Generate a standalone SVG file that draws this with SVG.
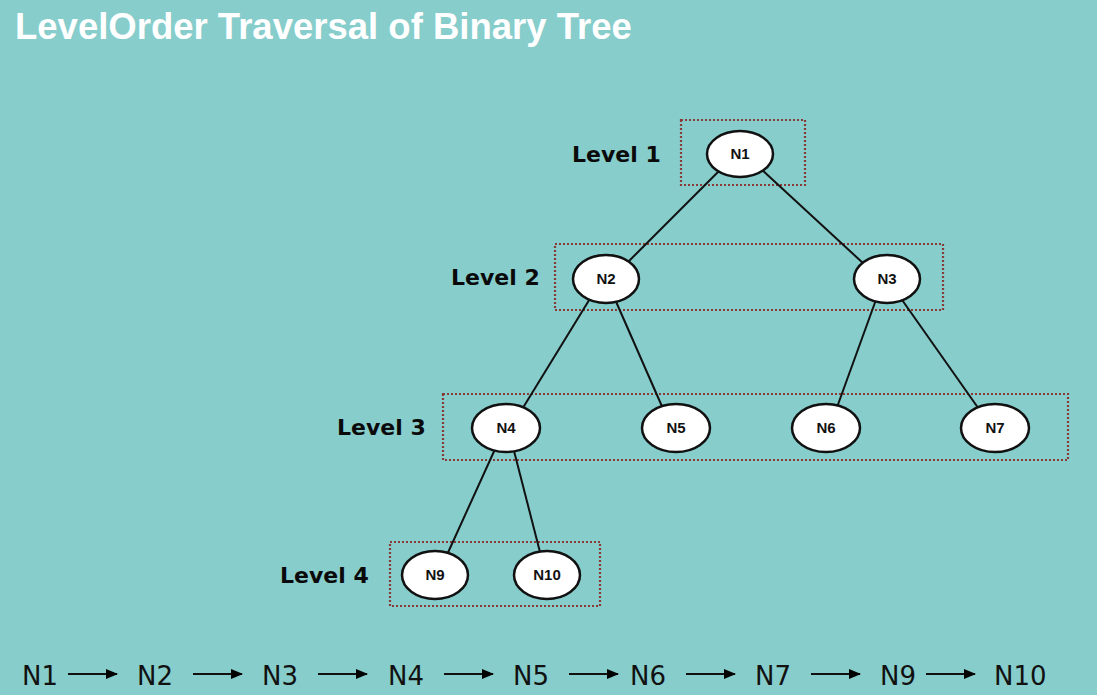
<svg xmlns="http://www.w3.org/2000/svg" width="1097" height="695" viewBox="0 0 1097 695">
<defs>
<marker id="ah" markerWidth="12" markerHeight="10" refX="11" refY="5" orient="auto" markerUnits="userSpaceOnUse">
<path d="M0,0 L12,5 L0,10 Z" fill="#000"/>
</marker>
</defs>
<style>
.title{font-family:"Liberation Sans",Arial,sans-serif;font-weight:bold;font-size:36.5px;fill:#fff}
.lvl{font-family:"DejaVu Sans",sans-serif;font-weight:bold;font-size:22px;fill:#0a0a0a}
.node ellipse{fill:#fff;stroke:#111;stroke-width:2.5}
.node text{font-family:"Liberation Sans",Arial,sans-serif;font-weight:bold;font-size:15px;fill:#111;text-anchor:middle}
.box{fill:none;stroke:#8a3a36;stroke-width:2.2;stroke-dasharray:2 2}
.edge{stroke:#111;stroke-width:2;fill:none}
.seq{font-family:"DejaVu Sans",sans-serif;font-size:26px;fill:#111}
.arr{stroke:#111;stroke-width:2;fill:none}
</style>
<rect width="1097" height="695" fill="#86cdcc"/>
<text class="title" x="15" y="39">LevelOrder Traversal of Binary Tree</text>

<g id="levels">
<rect class="box" x="681" y="120" width="124" height="65"/>
<rect class="box" x="555" y="244" width="388" height="66"/>
<rect class="box" x="443" y="394" width="625" height="66"/>
<rect class="box" x="390" y="542" width="210" height="64"/>
<text class="lvl" x="572" y="162">Level 1</text>
<text class="lvl" x="451" y="285">Level 2</text>
<text class="lvl" x="337" y="435">Level 3</text>
<text class="lvl" x="280" y="583">Level 4</text>
</g>

<g id="connectors">
<line class="edge" x1="722" y1="168" x2="628" y2="262"/>
<line class="edge" x1="760" y1="168" x2="864" y2="264"/>
<line class="edge" x1="591" y1="297" x2="521" y2="411"/>
<line class="edge" x1="614" y1="297" x2="664" y2="411"/>
<line class="edge" x1="877" y1="297" x2="836" y2="410"/>
<line class="edge" x1="900" y1="297" x2="981" y2="412"/>
<line class="edge" x1="496" y1="447" x2="446" y2="557"/>
<line class="edge" x1="513" y1="447" x2="541" y2="556"/>
</g>

<g id="N1" class="node"><ellipse cx="740" cy="154" rx="33" ry="23"/><text x="740" y="159">N1</text></g>
<g id="N2" class="node"><ellipse cx="606" cy="279" rx="33" ry="24"/><text x="606" y="284">N2</text></g>
<g id="N3" class="node"><ellipse cx="887" cy="279" rx="33" ry="24"/><text x="887" y="284">N3</text></g>
<g id="N4" class="node"><ellipse cx="506" cy="428" rx="34" ry="24"/><text x="506" y="433">N4</text></g>
<g id="N5" class="node"><ellipse cx="676" cy="428" rx="34" ry="24"/><text x="676" y="433">N5</text></g>
<g id="N6" class="node"><ellipse cx="826" cy="428" rx="34" ry="24"/><text x="826" y="433">N6</text></g>
<g id="N7" class="node"><ellipse cx="995" cy="428" rx="34" ry="24"/><text x="995" y="433">N7</text></g>
<g id="N9" class="node"><ellipse cx="435" cy="575" rx="33" ry="24"/><text x="435" y="580">N9</text></g>
<g id="N10" class="node"><ellipse cx="547" cy="575" rx="33" ry="24"/><text x="547" y="580">N10</text></g>

<g id="sequence">
<text class="seq" x="22" y="685">N1</text>
<text class="seq" x="137" y="685">N2</text>
<text class="seq" x="262" y="685">N3</text>
<text class="seq" x="388" y="685">N4</text>
<text class="seq" x="513" y="685">N5</text>
<text class="seq" x="630" y="685">N6</text>
<text class="seq" x="755" y="685">N7</text>
<text class="seq" x="880" y="685">N9</text>
<text class="seq" x="994" y="685">N10</text>
<line class="arr" x1="68" y1="674" x2="117" y2="674" marker-end="url(#ah)"/>
<line class="arr" x1="193" y1="674" x2="242" y2="674" marker-end="url(#ah)"/>
<line class="arr" x1="318" y1="674" x2="367" y2="674" marker-end="url(#ah)"/>
<line class="arr" x1="444" y1="674" x2="493" y2="674" marker-end="url(#ah)"/>
<line class="arr" x1="569" y1="674" x2="618" y2="674" marker-end="url(#ah)"/>
<line class="arr" x1="686" y1="674" x2="735" y2="674" marker-end="url(#ah)"/>
<line class="arr" x1="811" y1="674" x2="860" y2="674" marker-end="url(#ah)"/>
<line class="arr" x1="926" y1="674" x2="975" y2="674" marker-end="url(#ah)"/>
</g>
</svg>
